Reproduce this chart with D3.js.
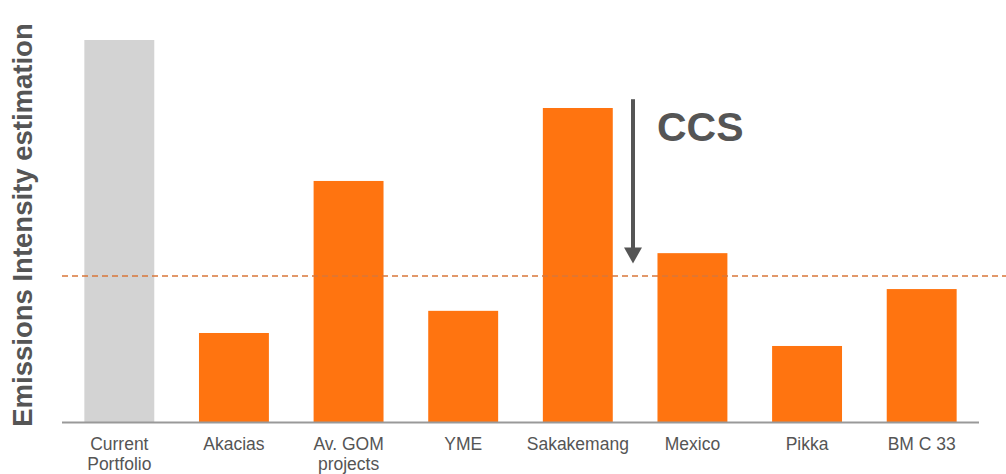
<!DOCTYPE html>
<head>
    <meta charset="utf-8">
    <title>Emissions Intensity</title>
    <style>
        body { margin: 0; background: #fff; }
        .tick-label {
            font: 17.5px "Liberation Sans", Arial, Helvetica, sans-serif;
            fill: #555;
            text-anchor: middle;
        }
        .y-title {
            font: bold 27.5px "Liberation Sans", Arial, Helvetica, sans-serif;
            fill: #555;
            text-anchor: middle;
        }
    </style>
</head>
<body>
    <svg width="1006" height="474"></svg>
    <script src="https://d3js.org/d3.v7.min.js"></script>
    <script>

    // data (arbitrary units, current portfolio = 100)
    var categories = ["Current|Portfolio", "Akacias", "Av. GOM|projects", "YME", "Sakakemang", "Mexico", "Pikka", "BM C 33"];
    var values = [100, 23.3, 63.1, 29.1, 82.2, 44.2, 19.9, 34.8];
    var threshold = 38.2;
    var ccsFrom = 84.5, ccsTo = 41.5;   // arrow next to Sakakemang

    var svg = d3.select("svg"),
        baseY = 422,
        x = d3.scaleBand().domain(categories).range([62, 979]).paddingInner(0.39).paddingOuter(0.195),
        y = d3.scaleLinear().domain([0, 100]).range([baseY, 40]);

    // bars
    svg.selectAll("rect.bar")
        .data(values)
        .enter().append("rect")
        .attr("class", "bar")
        .attr("x", function(d, i) { return x(categories[i]); })
        .attr("width", x.bandwidth())
        .attr("y", function(d) { return y(d); })
        .attr("height", function(d) { return baseY - y(d); })
        .style("fill", function(d, i) { return i === 0 ? "#d3d3d3" : "#ff7410"; });

    // threshold line
    svg.append("line")
        .attr("x1", 62).attr("x2", 1006)
        .attr("y1", y(threshold)).attr("y2", y(threshold))
        .style("stroke", "#d9773a")
        .style("stroke-width", 1.5)
        .style("stroke-dasharray", "6,4");

    // baseline
    svg.append("line")
        .attr("x1", 62).attr("x2", 979)
        .attr("y1", baseY + 0.5).attr("y2", baseY + 0.5)
        .style("stroke", "#999")
        .style("stroke-width", 2);

    // labels
    var lab = svg.selectAll("text.tick-label")
        .data(categories)
        .enter().append("text")
        .attr("class", "tick-label")
        .attr("x", function(d) { return x(d) + x.bandwidth() / 2; })
        .attr("y", 450);
    lab.each(function(d) {
        var parts = d.split("|"), t = d3.select(this);
        parts.forEach(function(p, k) {
            t.append("tspan").attr("x", t.attr("x")).attr("dy", k ? 20 : 0).text(p);
        });
    });

    // y title
    svg.append("text")
        .attr("class", "y-title")
        .attr("transform", "translate(32,225) rotate(-90)")
        .text("Emissions Intensity estimation");

    // CCS arrow
    var ax = 633;
    svg.append("line")
        .attr("x1", ax).attr("x2", ax)
        .attr("y1", y(ccsFrom)).attr("y2", y(ccsTo) - 14)
        .style("stroke", "#555")
        .style("stroke-width", 4);
    svg.append("path")
        .attr("d", "M" + (ax - 9) + "," + (y(ccsTo) - 16) + "L" + (ax + 9) + "," + (y(ccsTo) - 16) + "L" + ax + "," + y(ccsTo) + "Z")
        .style("fill", "#555");
    svg.append("text")
        .attr("x", 657).attr("y", 141)
        .style("font", "bold 41px 'Liberation Sans', Arial, sans-serif")
        .style("fill", "#555")
        .text("CCS");

    </script>
</body>
</html>
